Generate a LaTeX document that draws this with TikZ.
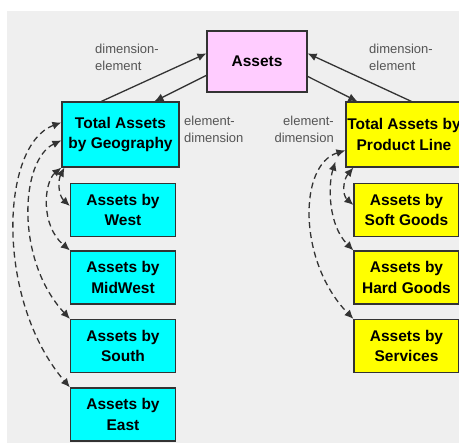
\documentclass[tikz,border=0pt]{standalone}
\usepackage{fontspec}
\setmainfont{Liberation Sans}
\usetikzlibrary{arrows.meta}
\definecolor{bg}{HTML}{EFEFEF}
\definecolor{boxcyan}{HTML}{00FFFF}
\definecolor{boxyellow}{HTML}{FFFF00}
\definecolor{boxpink}{HTML}{FFCCFF}
\definecolor{edge}{HTML}{333333}
\definecolor{lbl}{HTML}{555555}
\begin{document}
\begin{tikzpicture}[x=1pt,y=-1pt,
  box/.style={draw=edge, line width=1.2pt, align=center, inner sep=0pt,
    font=\fontsize{15.5}{20.5}\selectfont\bfseries, text=black},
  top/.style={box, fill=boxpink, minimum width=100pt, minimum height=61pt},
  geo/.style={box, fill=boxcyan, minimum width=117pt, minimum height=65pt},
  prod/.style={box, fill=boxyellow, minimum width=116pt, minimum height=65pt},
  geochild/.style={box, fill=boxcyan, minimum width=105pt, minimum height=53pt},
  prodchild/.style={box, fill=boxyellow, minimum width=105pt, minimum height=53pt},
  lab/.style={font=\fontsize{13}{17}\selectfont, text=lbl, inner sep=0pt},
  solidarrow/.style={draw=edge, line width=1.3pt, -{Latex[length=9pt,width=8pt]}},
  dasharrow/.style={draw=edge, line width=1.3pt, dash pattern=on 6pt off 4pt,
    {Latex[length=9pt,width=8pt]}-{Latex[length=9pt,width=8pt]}},
]
\useasboundingbox (0,0) rectangle (459,443);
\clip (0,0) rectangle (459,443);
\fill[white] (0,0) rectangle (459,443);
\fill[bg] (7,11) rectangle (459,443);

% nodes
\node[top] (A) at (257,61.5) {Assets};
\node[geo] (G) at (120.5,134.5) {Total Assets\\by Geography};
\node[prod] (P) at (404,134.5) {Total Assets by\\Product Line};

\node[geochild] (W) at (123,210) {Assets by\\West};
\node[geochild] (MW) at (123,277.5) {Assets by\\MidWest};
\node[geochild] (S) at (123,346) {Assets by\\South};
\node[geochild] (E) at (123,414.5) {Assets by\\East};

\node[prodchild] (SG) at (406.5,210) {Assets by\\Soft Goods};
\node[prodchild] (HG) at (406.5,277.5) {Assets by\\Hard Goods};
\node[prodchild] (SV) at (406.5,346) {Assets by\\Services};

% labels
\node[lab, anchor=west, align=left] (l1) at (95,57) {dimension-\\element};
\node[lab, anchor=west, align=left] (l2) at (369,57) {dimension-\\element};
\node[lab, anchor=west, align=left] (l3) at (184,129.5) {element-\\dimension};
\node[lab, anchor=east, align=right] (l4) at (334,129.5) {element-\\dimension};

% solid arrows
\draw[solidarrow] ([xshift=40pt]G.north west) -- ([yshift=-23pt]A.north west);
\draw[solidarrow] ([yshift=-45pt]A.north west) -- ([xshift=93pt]G.north west);
\draw[solidarrow] ([yshift=-46pt]A.north east) -- ([xshift=12pt]P.north west);
\draw[solidarrow] ([xshift=66pt]P.north west) -- ([yshift=-23pt]A.north east);

% dashed curves left
\draw[dasharrow] ([yshift=-21pt]G.north west) .. controls (0,145) and (-5,300) .. (E.north west);
\draw[dasharrow] ([yshift=-39pt]G.north west) .. controls (20,160) and (15,260) .. (S.north west);
\draw[dasharrow] (G.south west) .. controls (44,182) and (40,225) .. (MW.north west);
\draw[dasharrow] ([xshift=3pt]G.south west) .. controls (58,180) and (58,195) .. ([yshift=4pt]W.west);

% dashed curves right
\draw[dasharrow] ([yshift=-49pt]P.north west) .. controls (298,165) and (298,262) .. (SV.north west);
\draw[dasharrow] ([xshift=-10pt,yshift=6pt]P.south west) .. controls (328,185) and (328,225) .. (HG.north west);
\draw[dasharrow] ([xshift=8pt]P.south west) .. controls (343,180) and (342,195) .. ([yshift=5pt]SG.west);
\end{tikzpicture}
\end{document}
